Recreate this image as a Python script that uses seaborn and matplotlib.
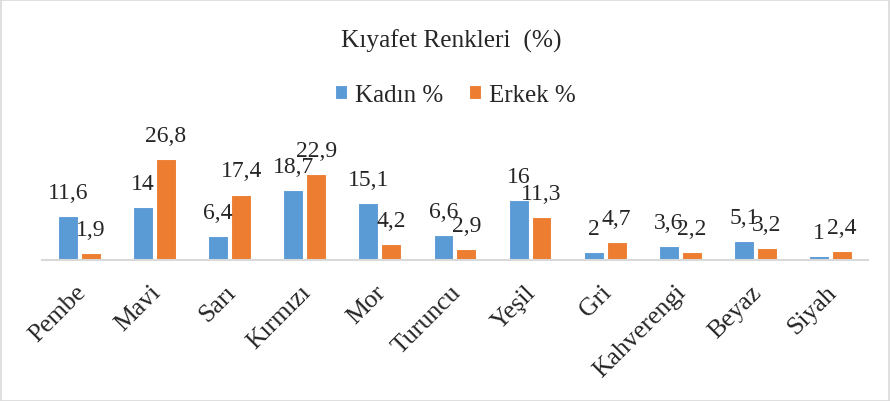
import matplotlib
matplotlib.use("Agg")
import matplotlib.pyplot as plt
import matplotlib.transforms as mtransforms
import seaborn as sns
import pandas as pd
from matplotlib.patches import Rectangle

categories = ["Pembe", "Mavi", "Sarı", "Kırmızı", "Mor", "Turuncu", "Yeşil", "Gri", "Kahverengi", "Beyaz", "Siyah"]
kadin = [11.6, 14, 6.4, 18.7, 15.1, 6.6, 16, 2, 3.6, 5.1, 1]
erkek = [1.9, 26.8, 17.4, 22.9, 4.2, 2.9, 11.3, 4.7, 2.2, 3.2, 2.4]
series_names = ["Kadın %", "Erkek %"]
colors = ["#5B9BD5", "#ED7D31"]
title = "Kıyafet Renkleri  (%)"

df = pd.DataFrame({
    "Renk": categories * 2,
    "Değer": kadin + erkek,
    "Cinsiyet": [series_names[0]] * len(categories) + [series_names[1]] * len(categories),
})

sns.set_theme(style="white")
plt.rcParams["font.family"] = ["Liberation Serif", "DejaVu Serif"]

fig = plt.figure(figsize=(8.91, 4.02), dpi=100)
ax = fig.add_axes([0.0471, 0.3507, 0.927, 0.281])

sns.barplot(data=df, x="Renk", y="Değer", hue="Cinsiyet", order=categories,
            hue_order=series_names, palette=colors, width=0.61, gap=0.13,
            edgecolor="white", linewidth=0.8, saturation=1, ax=ax, legend=True)

ax.set_ylim(0, 30)
ax.set_xlim(-0.5, len(categories) - 0.5)

def fmt(v):
    s = f"{v:g}"
    return s.replace(".", ",")

for cont in ax.containers:
    for bar in cont:
        h = bar.get_height()
        x = bar.get_x() + bar.get_width() / 2
        ax.annotate(fmt(h), (x, h), xytext=(0, 13), textcoords="offset points",
                    ha="center", va="baseline", fontsize=17, color="#262626",
                    annotation_clip=False)

ax.set_xlabel("")
ax.set_ylabel("")
ax.set_yticks([])
ax.tick_params(axis="x", length=0, pad=15)
shift = mtransforms.ScaledTranslation(-5 / 100, 0, fig.dpi_scale_trans)
for lbl in ax.get_xticklabels():
    lbl.set_rotation(45)
    lbl.set_ha("right")
    lbl.set_rotation_mode("anchor")
    lbl.set_fontsize(18.5)
    lbl.set_color("#262626")
    lbl.set_transform(lbl.get_transform() + shift)

for s in ["top", "right", "left"]:
    ax.spines[s].set_visible(False)
ax.spines["bottom"].set_color("#D9D9D9")
ax.spines["bottom"].set_linewidth(1.5)

handles, labels = ax.get_legend_handles_labels()
ax.legend_.remove()
fig.legend(handles, labels, loc="center", bbox_to_anchor=(0.511, 0.762), ncol=2,
           frameon=False, fontsize=18, handlelength=0.5, handleheight=0.5,
           handletextpad=0.32, columnspacing=1.0, labelcolor="#262626")

fig.text(0.506, 0.897, title, ha="center", va="center", fontsize=18.3, color="#262626")

fig.patches.append(Rectangle((0.001, 0.001), 0.997, 0.996, transform=fig.transFigure,
                             fill=False, edgecolor="#D9D9D9", linewidth=1.2))

fig.savefig("out.png", dpi=100)
